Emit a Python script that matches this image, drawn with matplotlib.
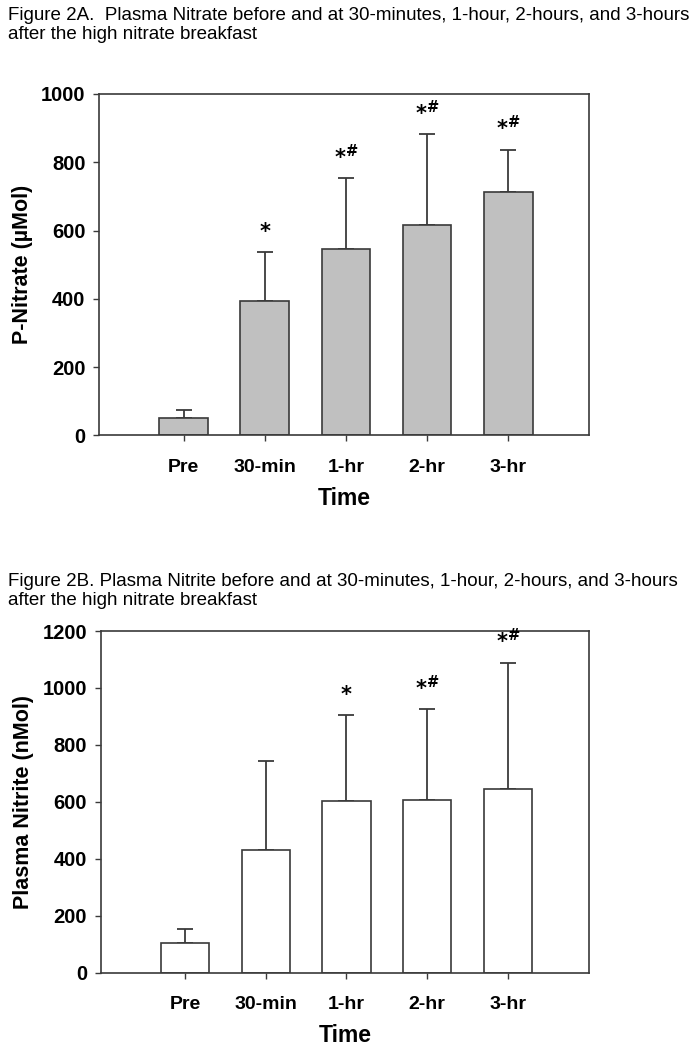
import matplotlib.pyplot as plt
import numpy as np

# =========================
# DATA
# =========================
times = ["Pre", "30-min", "1-hr", "2-hr", "3-hr"]

nitrate_mean = [52, 394, 546, 616, 714]
nitrate_sd = [22, 144, 208, 267, 123]
nitrate_sig = ["", "*", "*#", "*#", "*#"]

nitrite_mean = [103, 430, 604, 606, 644]
nitrite_sd = [49, 312, 300, 319, 445]
nitrite_sig = ["", "", "*", "*#", "*#"]

plt.rcParams["font.family"] = ["Liberation Sans", "DejaVu Sans"]

EDGE = "#3a3a3a"


def draw_panel(ax, means, sds, sig, face, ymax, yticks, ylabel):
    x = np.arange(len(times))
    ax.bar(x, means, width=0.6, color=face, edgecolor=EDGE, linewidth=1.2, zorder=2)
    ax.errorbar(x, means, yerr=[np.zeros(len(sds)), sds], fmt="none",
                ecolor=EDGE, elinewidth=1.3, capsize=5.5, capthick=1.3, zorder=1)
    for xi, m, s, lab in zip(x, means, sds, sig):
        if not lab:
            continue
        ytxt = m + s + ymax * 0.035
        if lab == "*":
            ax.text(xi, ytxt, r"$\bf{*}$", ha="center", va="bottom", fontsize=15)
        else:
            ax.text(xi, ytxt, r"$\bf{*}^{\#}$", ha="center", va="bottom", fontsize=15)

    ax.set_xlim(-1.04, 5.0)
    ax.set_ylim(0, ymax)
    ax.set_xticks(x)
    ax.set_xticklabels(times, fontsize=14, fontweight="bold")
    ax.set_yticks(yticks)
    ax.set_yticklabels([str(t) for t in yticks], fontsize=14.5, fontweight="bold")
    ax.tick_params(axis="both", direction="out", length=4, width=1, color=EDGE, pad=6)
    ax.tick_params(axis="x", pad=13)
    for sp in ax.spines.values():
        sp.set_color(EDGE)
        sp.set_linewidth(1.2)
    ax.set_xlabel("Time", fontsize=16.5, fontweight="bold", labelpad=8)
    ax.set_ylabel(ylabel, fontsize=15.5, fontweight="bold", labelpad=6)


fig = plt.figure(figsize=(6.92, 10.5), dpi=100)

ax1 = fig.add_axes([0.1435, 0.5854, 0.7081, 0.3251])
draw_panel(ax1, nitrate_mean, nitrate_sd, nitrate_sig, "#c0c0c0", 1000,
           [0, 200, 400, 600, 800, 1000], "P-Nitrate (\u00b5Mol)")

ax2 = fig.add_axes([0.1460, 0.0736, 0.7047, 0.3254])
draw_panel(ax2, nitrite_mean, nitrite_sd, nitrite_sig, "white", 1200,
           [0, 200, 400, 600, 800, 1000, 1200], "Plasma Nitrite (nMol)")

fig.text(0.012, 1 - 7 / 1050,
         "Figure 2A.  Plasma Nitrate before and at 30-minutes, 1-hour, 2-hours, and 3-hours\n"
         "after the high nitrate breakfast",
         ha="left", va="top", fontsize=13.5, linespacing=1.15)
fig.text(0.012, 1 - 573 / 1050,
         "Figure 2B. Plasma Nitrite before and at 30-minutes, 1-hour, 2-hours, and 3-hours\n"
         "after the high nitrate breakfast",
         ha="left", va="top", fontsize=13.5, linespacing=1.15)

fig.savefig("out.png", dpi=100)
